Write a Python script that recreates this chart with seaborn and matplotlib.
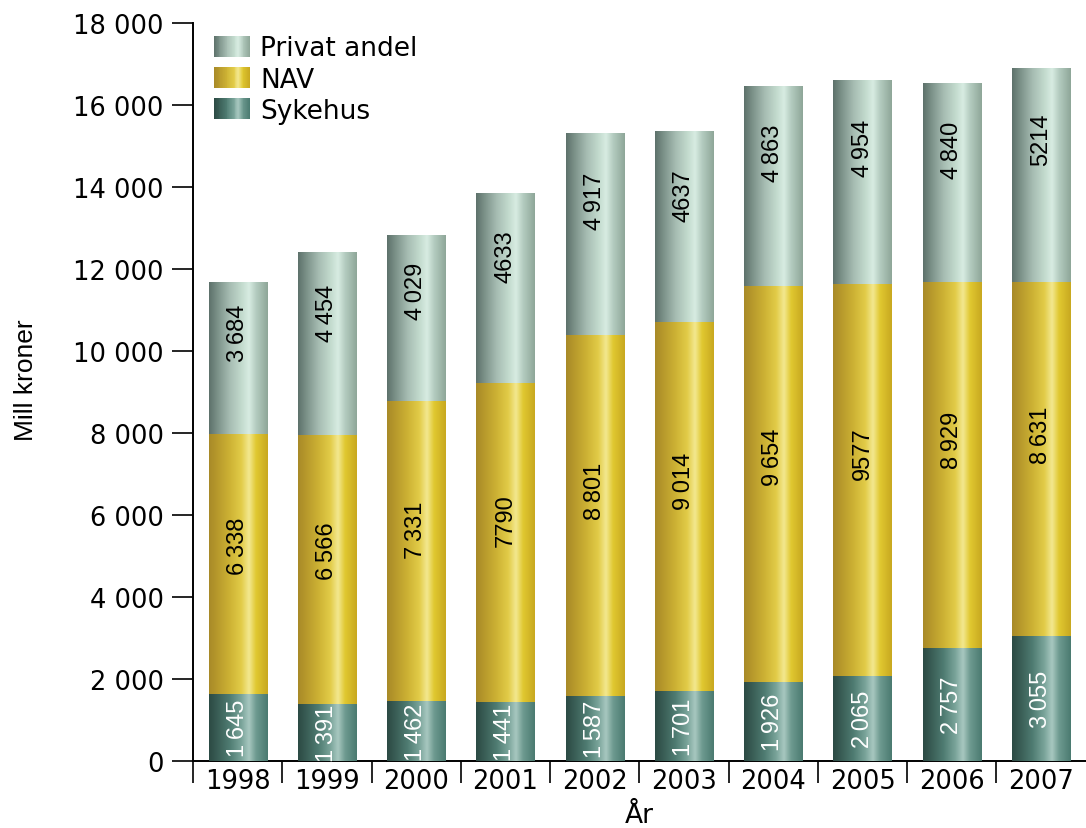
import numpy as np
import matplotlib
matplotlib.use("Agg")
import matplotlib.pyplot as plt
from matplotlib.colors import LinearSegmentedColormap
from matplotlib.legend_handler import HandlerBase
from matplotlib.patches import Rectangle
import seaborn as sns

# ---------------- data ----------------
years = ["1998", "1999", "2000", "2001", "2002", "2003", "2004", "2005", "2006", "2007"]
sykehus = [1645, 1391, 1462, 1441, 1587, 1701, 1926, 2065, 2757, 3055]
nav = [6338, 6566, 7331, 7790, 8801, 9014, 9654, 9577, 8929, 8631]
privat = [3684, 4454, 4029, 4633, 4917, 4637, 4863, 4954, 4840, 5214]
series_names = ["Sykehus", "NAV", "Privat andel"]
yticks = [0, 2000, 4000, 6000, 8000, 10000, 12000, 14000, 16000, 18000]
# labels printed without thousands space in the original
nospace = {("Privat andel", "2001"), ("NAV", "2001"), ("Privat andel", "2003"),
           ("NAV", "2005"), ("Privat andel", "2007")}

# ---------------- styles ----------------
grad_stops = {
    "Sykehus": ["#2c4a44", "#3a5e56", "#4f7c72", "#7aa49a", "#a8c8c0", "#6e9a90", "#4a7a70"],
    "NAV": ["#a88a28", "#b89a2c", "#cdb234", "#e2cc48", "#f3e890", "#e0c830", "#c8a820"],
    "Privat andel": ["#5d716b", "#7d938a", "#a6bcb2", "#c2dacd", "#d8ece2", "#b4ccc0", "#8ea698"],
}
stop_pos = [0.0, 0.15, 0.35, 0.55, 0.68, 0.8, 1.0]
cmaps = {k: LinearSegmentedColormap.from_list(k, list(zip(stop_pos, v)))
         for k, v in grad_stops.items()}
label_colors = {"Sykehus": "white", "NAV": "black", "Privat andel": "black"}
label_frac = {"Sykehus": 0.5, "NAV": 0.57, "Privat andel": 0.67}

sns.set_theme(style="white")
plt.rcParams["font.family"] = ["DejaVu Sans"]
plt.rcParams["text.color"] = "black"
plt.rcParams["axes.labelcolor"] = "black"
plt.rcParams["xtick.color"] = "black"
plt.rcParams["ytick.color"] = "black"
narrow = ["Liberation Sans Narrow", "Liberation Sans", "DejaVu Sans"]

fig = plt.figure(figsize=(10.86, 8.29), dpi=100)
ax = fig.add_axes([0.1777, 0.0808, 0.822, 0.890])

df_vals = {"Sykehus": np.array(sykehus), "NAV": np.array(nav), "Privat andel": np.array(privat)}
cum = {}
running = np.zeros(len(years))
bottoms = {}
for name in series_names:
    bottoms[name] = running.copy()
    running = running + df_vals[name]
    cum[name] = running.copy()

# draw stacked bars with seaborn (largest cumulative first)
bar_w = 0.65
for name in reversed(series_names):
    sns.barplot(x=years, y=cum[name], color=grad_stops[name][3], width=bar_w,
                ax=ax, order=years, linewidth=0, saturation=1)

# gradient overlay for each segment
grad = np.linspace(0, 1, 256).reshape(1, -1)
for name in series_names:
    for i, yr in enumerate(years):
        x0, x1 = i - bar_w / 2, i + bar_w / 2
        y0, y1 = bottoms[name][i], cum[name][i]
        ax.imshow(grad, cmap=cmaps[name], extent=(x0, x1, y0, y1),
                  aspect="auto", interpolation="bicubic", zorder=3)
        v = df_vals[name][i]
        if (name, yr) in nospace:
            txt = f"{v}"
        else:
            txt = f"{v:,}".replace(",", "\u2009")
        ax.text(i, y0 + label_frac[name] * (y1 - y0), txt, rotation=90,
                ha="center", va="center", color=label_colors[name],
                fontsize=17, family=narrow, zorder=4)

ax.set_xlim(-0.5, 9.5)
ax.set_ylim(0, 18000)

# axes styling
for s in ["top", "right"]:
    ax.spines[s].set_visible(False)
for s in ["left", "bottom"]:
    ax.spines[s].set_color("black")
    ax.spines[s].set_linewidth(1.4)

ax.set_yticks(yticks)
ax.set_yticklabels([f"{t:,}".replace(",", " ") for t in yticks], fontsize=18.5)
ax.tick_params(axis="y", direction="out", length=15, width=1.2, color="black",
               left=True, pad=6)
ax.set_xticks(range(len(years)))
ax.set_xticklabels(years, fontsize=18.5)
ax.tick_params(axis="x", which="major", length=0, pad=5)
ax.set_xticks(np.arange(-0.5, 9.0, 1.0), minor=True)
ax.tick_params(axis="x", which="minor", direction="out", length=16, width=1.2,
               color="black", bottom=True)

ax.set_xlabel("År", fontsize=19, labelpad=6)
ax.set_ylabel("Mill kroner", fontsize=19, family=narrow)
ax.yaxis.set_label_coords(-0.174, 0.518)


class GradientHandler(HandlerBase):
    def __init__(self, cmap):
        super().__init__()
        self.cmap = cmap

    def create_artists(self, legend, orig_handle, xdescent, ydescent, width,
                       height, fontsize, trans):
        n = 40
        arts = []
        for k in range(n):
            r = Rectangle((-xdescent + width * k / n, -ydescent - 1), width / n + 0.3,
                          height + 2, facecolor=self.cmap((k + 0.5) / n),
                          edgecolor="none", transform=trans)
            arts.append(r)
        return arts


handles = [Rectangle((0, 0), 1, 1) for _ in series_names]
order = ["Privat andel", "NAV", "Sykehus"]
hmap = {h: GradientHandler(cmaps[n]) for h, n in zip(handles, series_names)}
hdict = dict(zip(series_names, handles))
leg = ax.legend([hdict[n] for n in order], order, loc="upper left",
                bbox_to_anchor=(0.0, 1.012), frameon=False, fontsize=19,
                handler_map=hmap, handlelength=1.35, handleheight=0.7,
                labelspacing=0.2, handletextpad=0.4, borderaxespad=0.3,
                borderpad=0.5)

fig.savefig("out.png", dpi=100)
